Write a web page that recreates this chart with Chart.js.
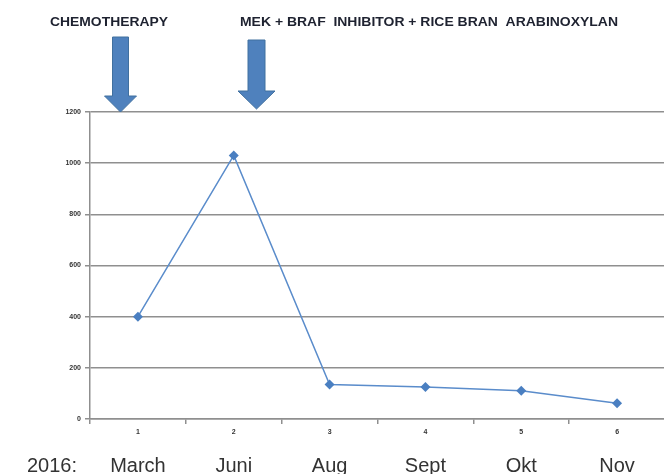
<!DOCTYPE html>
<html>
<head>
<meta charset="utf-8">
<script src="https://cdn.jsdelivr.net/npm/chart.js@4"></script>
<style>
  html, body { margin: 0; padding: 0; background: #fff; overflow: hidden; }
  #wrap { width: 664px; height: 474px; overflow: hidden; }
</style>
</head>
<body>
<div id="wrap"><canvas id="myChart" width="670" height="474"></canvas></div>
<script>
// DATA
var tickLabels = ["1", "2", "3", "4", "5", "6"];
var months = ["March", "Juni", "Aug", "Sept", "Okt", "Nov"];
var yValues = [400, 1030, 135, 125, 110, 62];
var yearLabel = "2016:";
var treatments = ["CHEMOTHERAPY", "MEK + BRAF  INHIBITOR + RICE BRAN  ARABINOXYLAN"];

var gridColor = "#8f8f8f";
var lineColor = "#5a8ccb";

// arrows + headings above the plot
var notes = {
  id: "notes",
  afterDraw: function (chart) {
    const ctx = chart.ctx;
    ctx.save();

    // headings, squeezed to the width they take in the original
    function heading(text, left, right, y) {
      ctx.font = "bold 12px 'Liberation Sans', Arial, sans-serif";
      ctx.fillStyle = "#1e2230";
      ctx.textBaseline = "middle";
      const w = ctx.measureText(text).width;
      ctx.save();
      ctx.translate(left, y);
      ctx.scale((right - left) / w, 1);
      ctx.fillText(text, 0, 0);
      ctx.restore();
    }
    heading(treatments[0], 50, 168, 23);
    heading(treatments[1], 240, 618, 23);

    function arrow(cx, shaftW, headW, top, neck, tip) {
      ctx.beginPath();
      ctx.moveTo(cx - shaftW / 2, top);
      ctx.lineTo(cx + shaftW / 2, top);
      ctx.lineTo(cx + shaftW / 2, neck);
      ctx.lineTo(cx + headW / 2, neck);
      ctx.lineTo(cx, tip);
      ctx.lineTo(cx - headW / 2, neck);
      ctx.lineTo(cx - shaftW / 2, neck);
      ctx.closePath();
      ctx.fillStyle = "#4f81bd";
      ctx.fill();
      ctx.strokeStyle = "#41709f";
      ctx.lineWidth = 1;
      ctx.stroke();
    }
    arrow(120.5, 16, 32, 37, 96, 112);
    arrow(256.5, 17, 37, 40, 91, 109);

    // year in front of the month row
    ctx.font = "20px 'Liberation Sans', Arial, sans-serif";
    ctx.fillStyle = "#333";
    ctx.textBaseline = "middle";
    ctx.fillText(yearLabel, 27, 466);
    ctx.restore();
  }
};

new Chart("myChart", {
  type: "line",
  data: {
    labels: tickLabels,
    datasets: [{
      data: yValues,
      xAxisID: "x",
      borderColor: lineColor,
      backgroundColor: "#4a7fc1",
      borderWidth: 1.5,
      pointStyle: "rectRot",
      pointRadius: 5,
      pointBorderWidth: 0,
      tension: 0
    }]
  },
  options: {
    responsive: false,
    animation: false,
    layout: { padding: { top: 112, left: 0, right: 0, bottom: 0 } },
    plugins: { legend: { display: false }, tooltip: { enabled: false } },
    scales: {
      y: {
        min: 0,
        max: 1200,
        ticks: {
          stepSize: 200, font: { size: 7, weight: "bold" }, color: "#333", padding: 4,
          callback: function (v) { return String(v); }
        },
        grid: { color: gridColor, lineWidth: 1.5, tickLength: 5 },
        border: { color: gridColor, width: 1.5 },
        afterFit: function (scale) { scale.width = 90; }
      },
      x: {
        type: "category",
        labels: tickLabels,
        offset: true,
        grid: { offset: true, drawOnChartArea: false, color: gridColor, lineWidth: 1.5, tickLength: 5 },
        border: { color: gridColor, width: 1.5 },
        ticks: { font: { size: 7, weight: "bold" }, color: "#333", padding: 4 },
        afterFit: function (scale) { scale.height = 27; }
      },
      x2: {
        type: "category",
        position: "bottom",
        labels: months,
        offset: true,
        grid: { display: false },
        border: { display: false },
        ticks: { font: { size: 20, family: "'Liberation Sans', Arial, sans-serif" }, color: "#333", padding: 0 },
        afterFit: function (scale) { scale.height = 28; }
      }
    }
  },
  plugins: [notes]
});
</script>
</body>
</html>
